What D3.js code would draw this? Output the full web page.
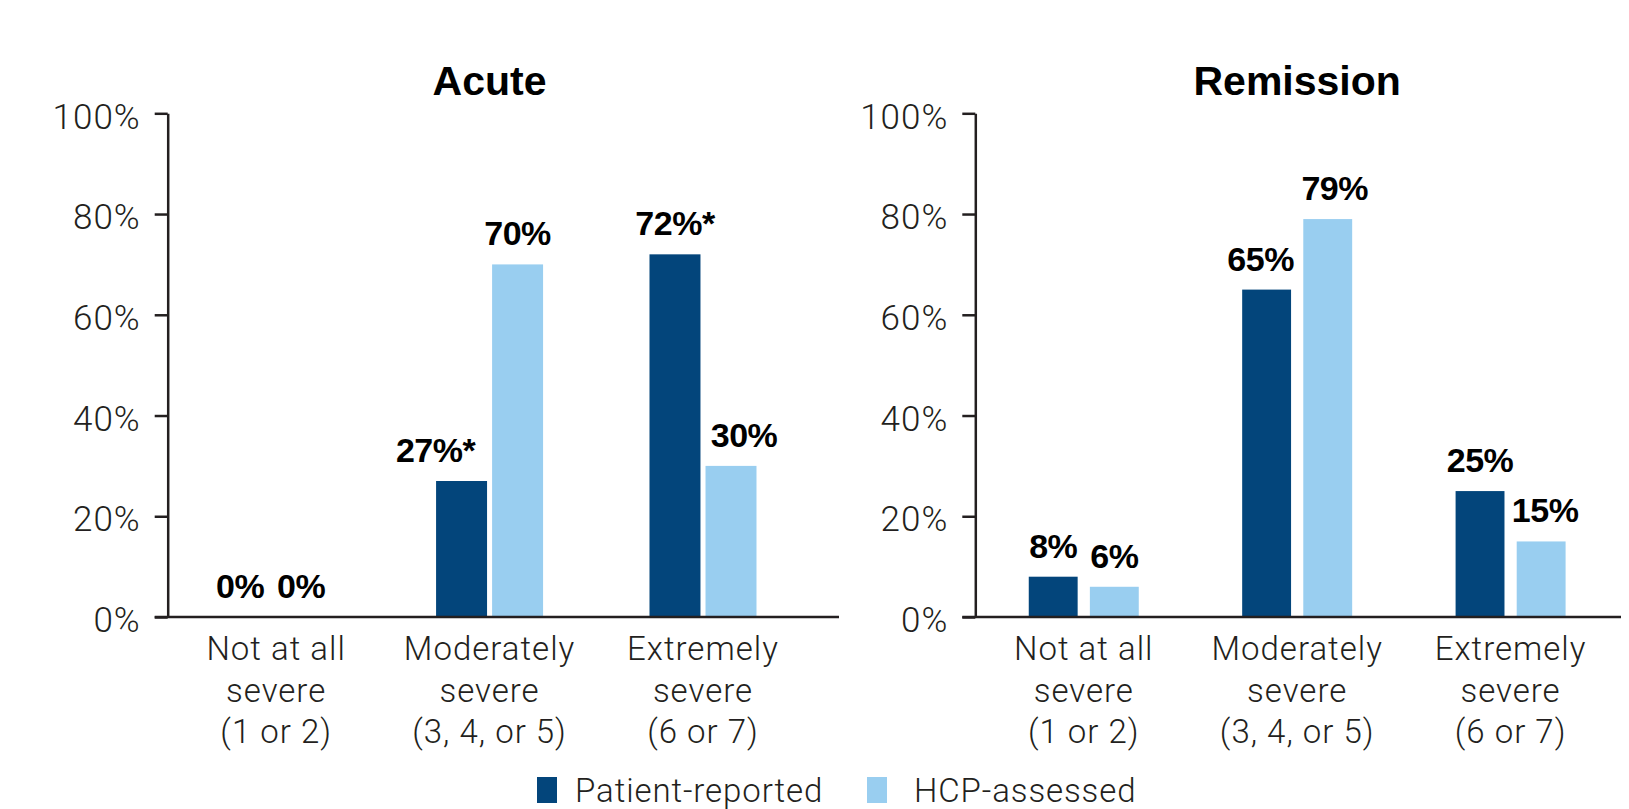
<!DOCTYPE html>
<html>
<head>
<meta charset="utf-8">
<script src="https://cdn.jsdelivr.net/npm/d3@7/dist/d3.min.js"></script>
<style>
  html, body { margin: 0; padding: 0; background: #fff; }
  svg { display: block; }
  .light { font-family: Roboto, "Liberation Sans", Arial, sans-serif; font-weight: 300; fill: #231f20; }
  .bold { font-family: "Liberation Sans", Arial, sans-serif; font-weight: 700; fill: #000; }
</style>
</head>
<body>
<svg id="chart" width="1629" height="809"></svg>
<script>
// ---- data ----
const categories = [
  ["Not at all", "severe", "(1 or 2)"],
  ["Moderately", "severe", "(3, 4, or 5)"],
  ["Extremely", "severe", "(6 or 7)"]
];
const categoryKeys = ["not", "moderate", "extreme"];
const seriesNames = ["Patient-reported", "HCP-assessed"];
const panelTitles = ["Acute", "Remission"];
const acutePatient = [0, 27, 72];
const acuteHCP = [0, 70, 30];
const remissionPatient = [8, 65, 25];
const remissionHCP = [6, 79, 15];
const acuteLabels = [["0%", "0%"], ["27%*", "70%"], ["72%*", "30%"]];
const remissionLabels = [["8%", "6%"], ["65%", "79%"], ["25%", "15%"]];
const yTicks = [0, 20, 40, 60, 80, 100];

// ---- layout / style ----
const colors = ["#03457b", "#99cef0"];
const svg = d3.select("#chart");
const y = d3.scaleLinear().domain([0, 100]).range([617, 113.3]);

const panels = [
  { title: panelTitles[0], values: [acutePatient, acuteHCP], labels: acuteLabels,
    axisX: 167.7, baseEnd: 839, groupW: 107, pad: 0.09,
    nudge: [[-8, -3], [-26, 0], [0, 13]] },
  { title: panelTitles[1], values: [remissionPatient, remissionHCP], labels: remissionLabels,
    axisX: 975.3, baseEnd: 1621, groupW: 110, pad: 0.2,
    nudge: [[0, 0], [-6, 7], [0, 4]] }
];

panels.forEach(p => {
  const g = svg.append("g");
  const x0 = d3.scaleBand().domain(categoryKeys).range([p.axisX + 1.75, p.axisX + 642]);
  const x1 = d3.scaleBand().domain(seriesNames).range([-p.groupW / 2, p.groupW / 2]).paddingInner(p.pad);

  // title
  g.append("text").attr("class", "bold")
    .attr("x", x0(categoryKeys[1]) + x0.bandwidth() / 2).attr("y", 95)
    .attr("text-anchor", "middle").attr("font-size", 41).text(p.title);

  // y axis
  const yAxis = d3.axisLeft(y).tickValues(yTicks).tickFormat(d => d + "%")
    .tickSize(13).tickPadding(14).tickSizeOuter(0);
  const ya = g.append("g").attr("transform", `translate(${p.axisX},0)`).call(yAxis);
  ya.select(".domain").attr("stroke", "#231f20").attr("stroke-width", 2.5);
  ya.selectAll(".tick line").attr("stroke", "#231f20").attr("stroke-width", 2.5);
  ya.selectAll(".tick text").attr("class", "light").attr("font-size", 35)
    .attr("letter-spacing", 1).attr("dy", "0.42em");

  // bars
  categoryKeys.forEach((c, ci) => {
    const cx = x0(c) + x0.bandwidth() / 2;
    seriesNames.forEach((s, si) => {
      const v = p.values[si][ci];
      const bx = cx + x1(s);
      if (v > 0) {
        g.append("rect").attr("x", bx).attr("y", y(v))
          .attr("width", x1.bandwidth()).attr("height", y(0) - y(v))
          .attr("fill", colors[si]);
      }
      g.append("text").attr("class", "bold")
        .attr("x", bx + x1.bandwidth() / 2 + p.nudge[ci][si]).attr("y", y(v) - 19)
        .attr("text-anchor", "middle").attr("font-size", 34).attr("letter-spacing", -0.5)
        .text(p.labels[ci][si]);
    });
    // category labels
    const t = g.append("text").attr("class", "light").attr("font-size", 33)
      .attr("letter-spacing", 1).attr("text-anchor", "middle");
    categories[ci].forEach((line, li) => {
      t.append("tspan").attr("x", cx).attr("y", 660 + li * 41.7).text(line);
    });
  });

  // baseline
  g.append("line").attr("x1", p.axisX - 13).attr("x2", p.baseEnd)
    .attr("y1", y(0)).attr("y2", y(0)).attr("stroke", "#231f20").attr("stroke-width", 2.5);
});

// legend
const legendX = [537, 867];
const legendTextX = [575, 914];
seriesNames.forEach((s, i) => {
  svg.append("rect").attr("x", legendX[i]).attr("y", 777).attr("width", 20).attr("height", 26)
    .attr("fill", colors[i]);
  svg.append("text").attr("class", "light").attr("x", legendTextX[i]).attr("y", 801.5)
    .attr("font-size", 33).attr("letter-spacing", 0.9).text(s);
});
</script>
</body>
</html>
